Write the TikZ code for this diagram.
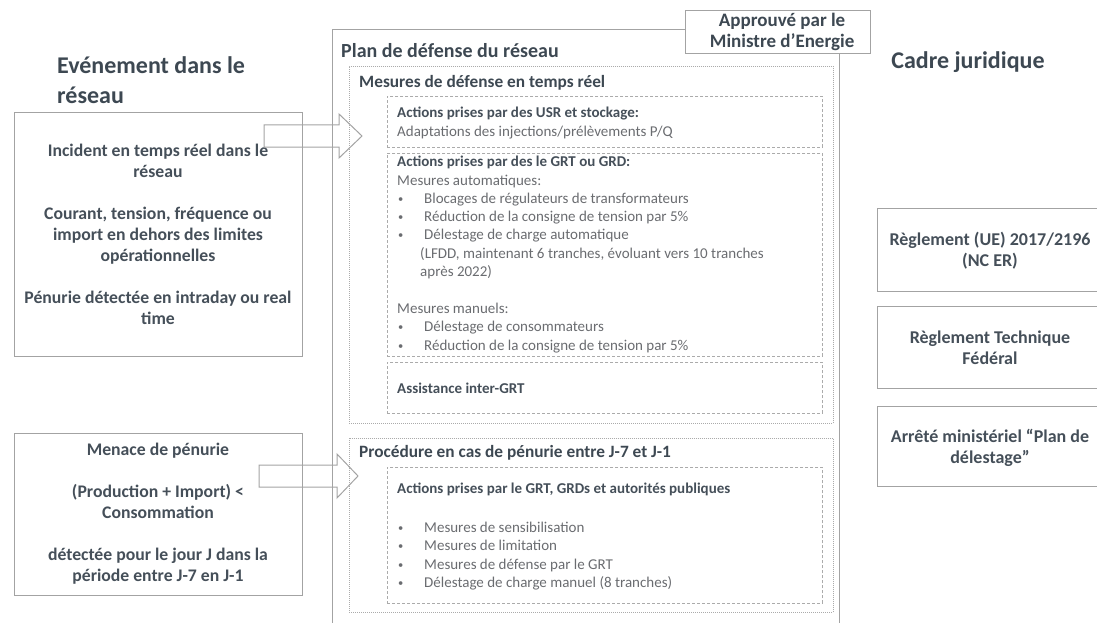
\documentclass[tikz,border=0pt]{standalone}
\usepackage{fontspec}
\setmainfont{Carlito}
\definecolor{txtdark}{HTML}{3D4852}
\definecolor{txtbold}{HTML}{454F59}
\definecolor{txtreg}{HTML}{6A6C70}
\definecolor{linegray}{HTML}{A3A3A3}
\definecolor{dotgray}{HTML}{ABABAB}
\newcommand{\bul}[1]{\makebox[27pt][l]{\hspace*{1pt}\raisebox{0.15ex}{\scalebox{0.7}{\textbullet}}}#1}
\begin{document}
\begin{tikzpicture}[x=1pt,y=-1pt,
  solidbox/.style={draw=linegray, line width=1.2pt, inner sep=0pt, anchor=north west},
  dotbox/.style={draw=dotgray, line width=0.8pt, dash pattern=on 1pt off 1pt, inner sep=0pt, anchor=north west},
  dashbox/.style={draw=dotgray, line width=0.9pt, dash pattern=on 3pt off 2pt, inner sep=0pt, anchor=north west},
  bigtitle/.style={font=\fontsize{24}{30}\selectfont\bfseries, text=txtdark, inner sep=0pt},
  boxtitle/.style={font=\fontsize{17.3}{21}\selectfont\bfseries, text=txtdark, inner sep=0pt, anchor=west},
  evtext/.style={font=\fontsize{17.7}{21}\selectfont\bfseries, text=txtbold, align=center, inner sep=0pt},
  legtext/.style={font=\fontsize{18}{21}\selectfont\bfseries, text=txtbold, align=center, inner sep=0pt},
  body/.style={font=\fontsize{15}{18.3}\selectfont, text=txtreg, align=left, inner sep=0pt, anchor=north west},
  blockarrow/.style={draw=linegray, line width=1pt, line join=miter}
]
\useasboundingbox (0,0) rectangle (1097,623);

% titles
\node[bigtitle, anchor=north west, align=left] (evtitle) at (57,56) {Evénement dans le\\réseau};
\node[bigtitle] (cadretitle) at (968,62) {Cadre juridique};

% main plan box
\node[solidbox, line width=1.4pt, minimum width=507pt, minimum height=630pt] (plan) at (332,29) {};
\node[font=\fontsize{20}{24}\selectfont\bfseries, text=txtdark, inner sep=0pt, anchor=west] (plantitle) at (341,51) {Plan de défense du réseau};

% approval box
\node[solidbox, fill=white, minimum width=185pt, minimum height=43pt] (appr) at (685,10) {};
\node[font=\fontsize{19}{20.5}\selectfont\bfseries, text=txtdark, align=center, inner sep=0pt] (apprtxt) at ([xshift=4pt]appr.center) {Approuvé par le\\Ministre d’Energie};

% real-time defence block
\node[dotbox, minimum width=484pt, minimum height=357pt] (rt) at (349,66) {};
\node[boxtitle] (rttitle) at (359,83) {Mesures de défense en temps réel};

\node[dashbox, minimum width=435pt, minimum height=51pt] (usr) at (387,96) {};
\node[body] (usrtxt) at (397,107) {{\fontsize{15}{18}\selectfont\bfseries\color{txtbold}Actions prises par des USR et stockage:}\\
Adaptations des injections/prélèvements P/Q};

\node[dashbox, minimum width=435pt, minimum height=203pt] (grt) at (387,153) {};
\node[body] (grttxt) at (397,156) {{\fontsize{15}{18}\selectfont\bfseries\color{txtbold}Actions prises par des le GRT ou GRD:}\\
Mesures automatiques:\\
\bul{Blocages de régulateurs de transformateurs}\\
\bul{Réduction de la consigne de tension par 5\%}\\
\bul{Délestage de charge automatique}\\
\hspace*{23pt}(LFDD, maintenant 6 tranches, évoluant vers 10 tranches\\
\hspace*{23pt}après 2022)\\[18.8pt]
Mesures manuels:\\
\bul{Délestage de consommateurs}\\
\bul{Réduction de la consigne de tension par 5\%}};

\node[dashbox, minimum width=435pt, minimum height=51pt] (inter) at (387,362) {};
\node[font=\fontsize{15}{18}\selectfont\bfseries, text=txtbold, inner sep=0pt, anchor=west] (intertxt) at (397,388) {Assistance inter-GRT};

% shortage procedure block
\node[dotbox, minimum width=484pt, minimum height=174pt] (proc) at (349,438) {};
\node[boxtitle] (proctitle) at (359,453) {Procédure en cas de pénurie entre J-7 et J-1};
\node[dashbox, minimum width=435pt, minimum height=136pt] (pub) at (387,467) {};
\node[body, font=\fontsize{15}{18.5}\selectfont] (pubtxt) at (397,483) {{\fontsize{15}{18}\selectfont\bfseries\color{txtbold}Actions prises par le GRT, GRDs et autorités publiques}\\[20pt]
\bul{Mesures de sensibilisation}\\
\bul{Mesures de limitation}\\
\bul{Mesures de défense par le GRT}\\
\bul{Délestage de charge manuel (8 tranches)}};

% event boxes
\node[solidbox, minimum width=288pt, minimum height=244pt] (ev1) at (14,112) {};
\node[evtext] (ev1txt) at (158,234) {Incident en temps réel dans le\\réseau\\[21pt]
Courant, tension, fréquence ou\\import en dehors des limites\\opérationnelles\\[21pt]
Pénurie détectée en intraday ou real\\time};

\node[solidbox, minimum width=288pt, minimum height=162pt] (ev2) at (14,433) {};
\node[evtext] (ev2txt) at (158,514) {Menace de pénurie\\[21pt]
(Production + Import) <\\Consommation\\[21pt]
détectée pour le jour J dans la\\période entre J-7 en J-1};

% block arrows
\draw[blockarrow] (264,125) -- (339,125) -- (339,114) -- (362,136) -- (339,158) -- (339,147) -- (264,147) -- cycle;
\draw[blockarrow] (259,465) -- (337,465) -- (337,454) -- (358,476) -- (337,498) -- (337,487) -- (259,487) -- cycle;

% legal framework boxes
\node[solidbox, minimum width=240pt, minimum height=83pt] (reg1) at (877,208) {};
\node[legtext] (reg1txt) at (990,251) {Règlement (UE) 2017/2196\\(NC ER)};
\node[solidbox, minimum width=240pt, minimum height=82pt] (reg2) at (877,306) {};
\node[legtext] (reg2txt) at (990,348) {Règlement Technique\\Fédéral};
\node[solidbox, minimum width=240pt, minimum height=80pt] (reg3) at (877,406) {};
\node[legtext] (reg3txt) at (990,448) {Arrêté ministériel “Plan de\\délestage”};
\end{tikzpicture}
\end{document}
